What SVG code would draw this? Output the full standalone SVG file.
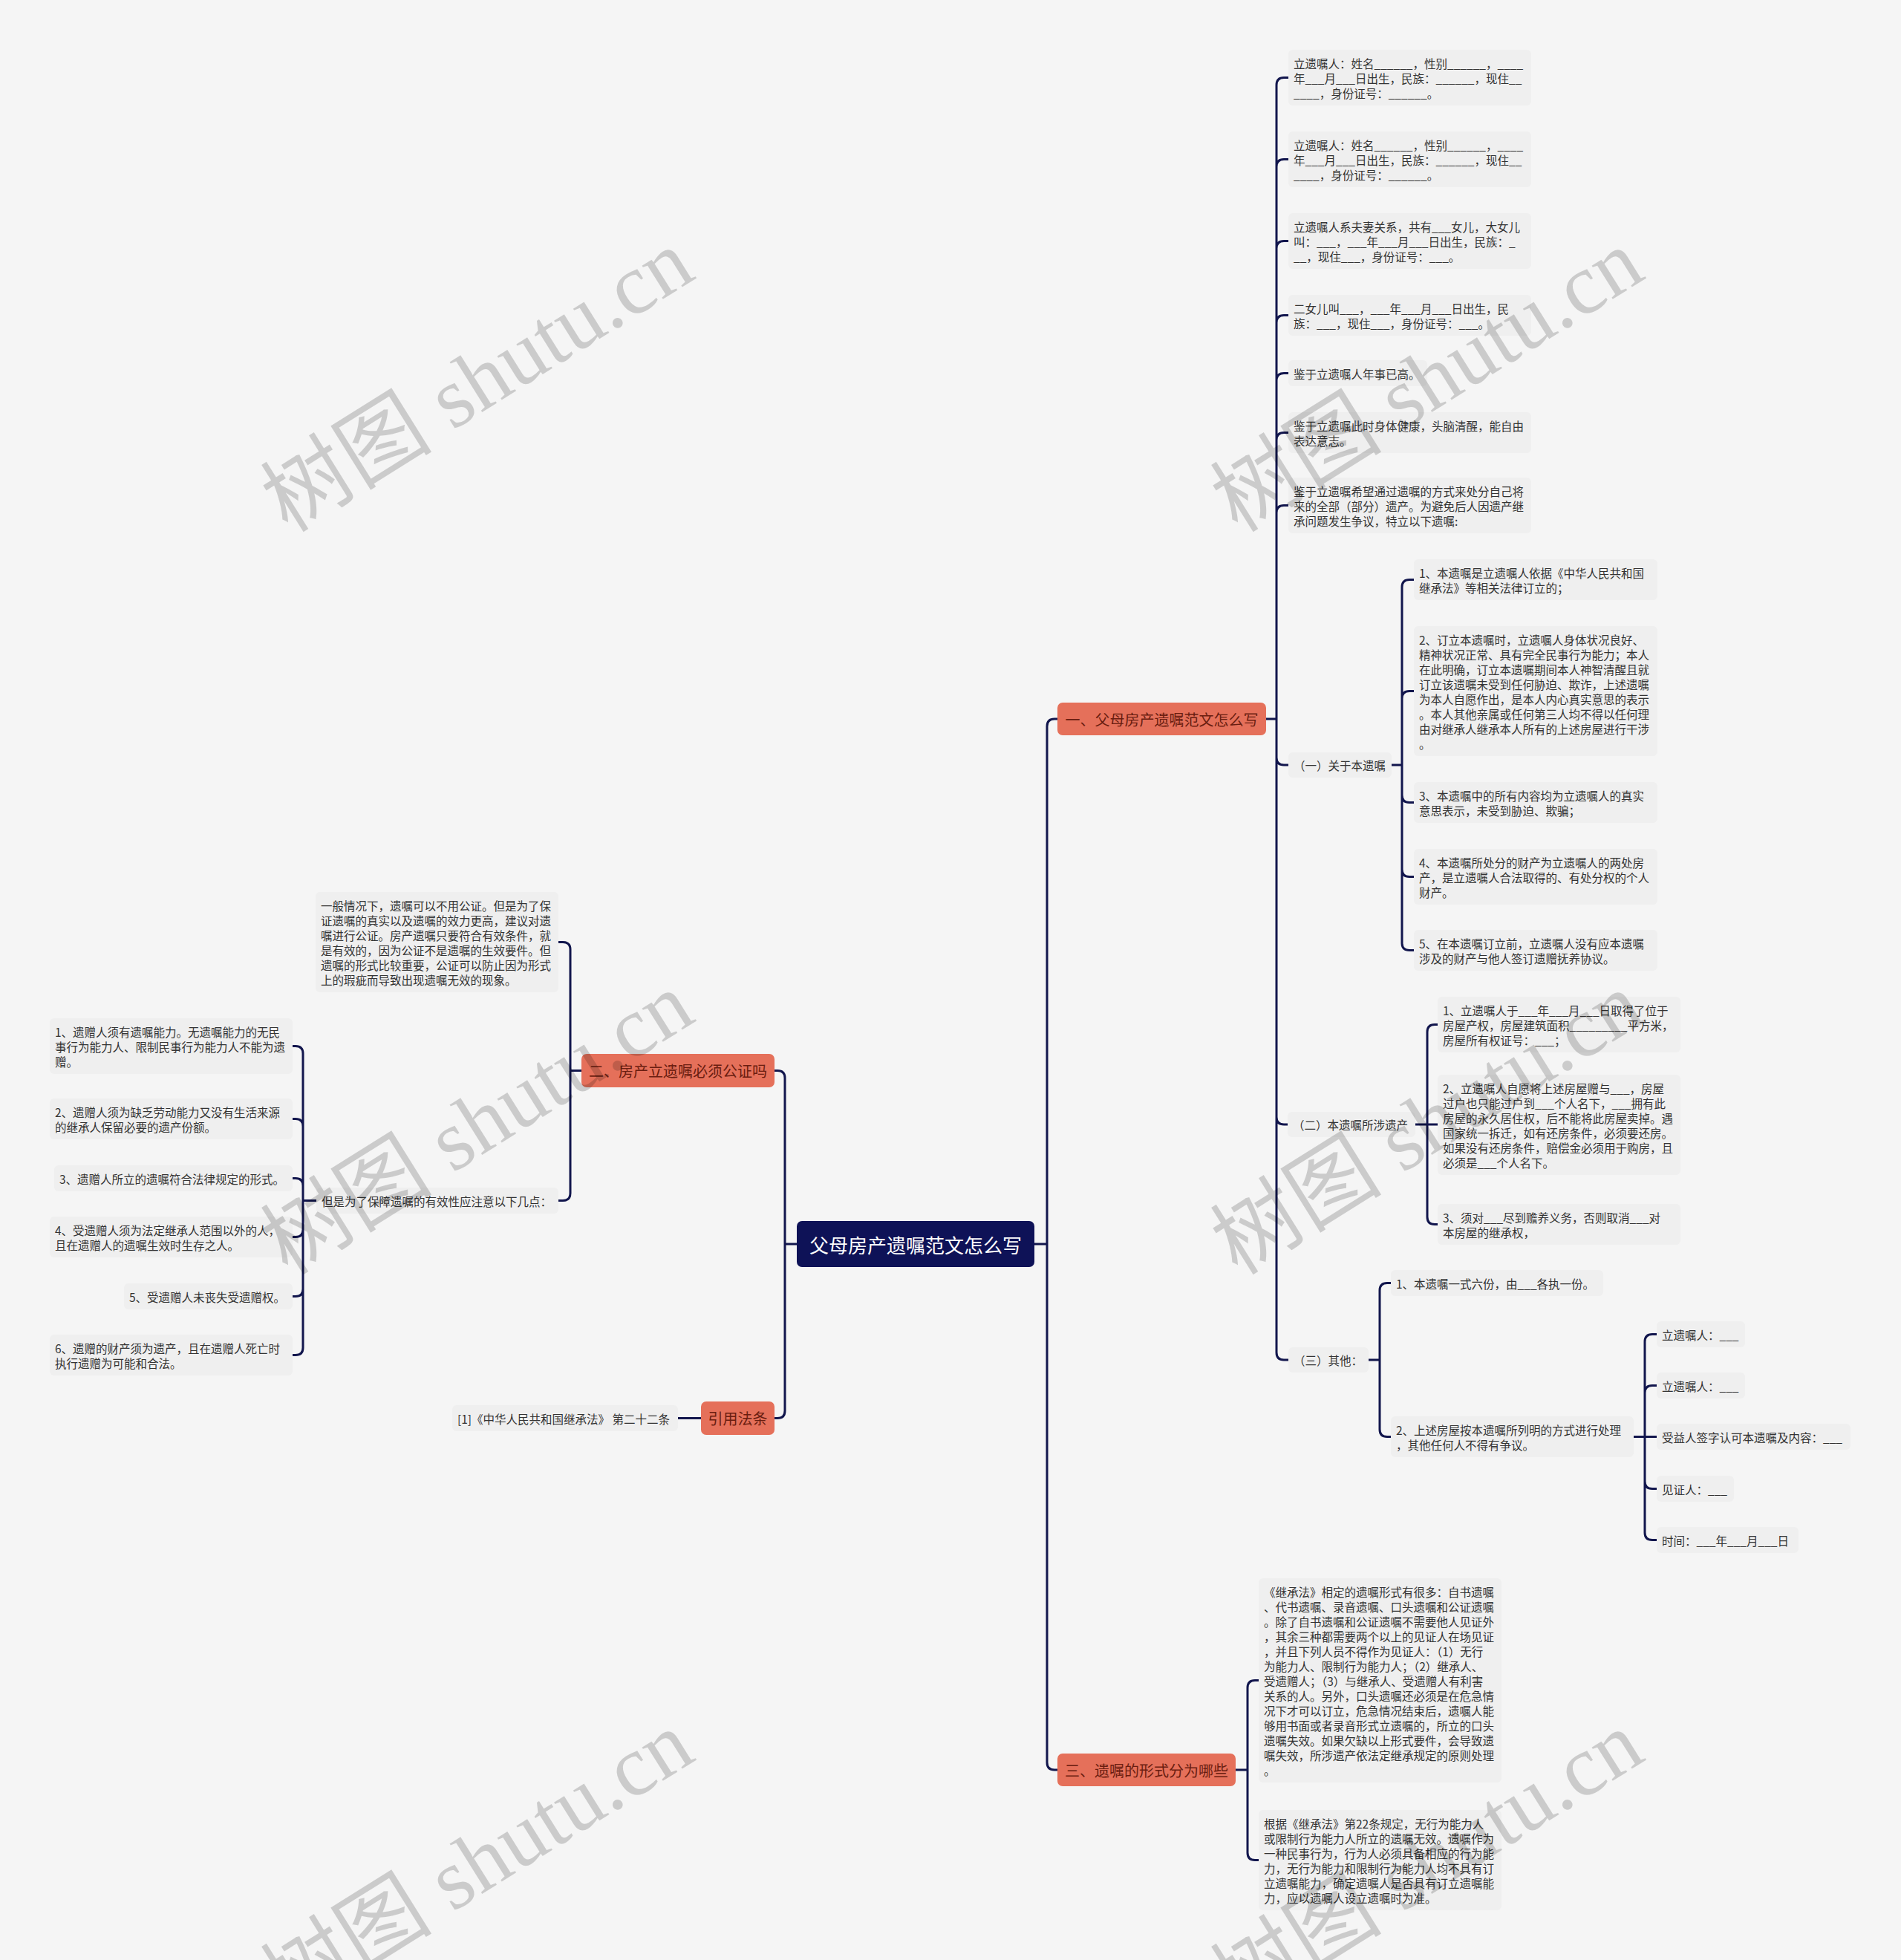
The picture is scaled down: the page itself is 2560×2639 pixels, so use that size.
<svg xmlns="http://www.w3.org/2000/svg" width="2560" height="2639" viewBox="0 0 2560 2639">
<style>
.n{fill:#efefef}
.t{font-family:"Noto Sans CJK SC","Noto Sans",sans-serif;font-size:15.5px;fill:#333;dominant-baseline:central}
.b{fill:#e5705a}
.bt{font-family:"Noto Sans CJK SC","Noto Sans",sans-serif;font-size:20px;fill:#6a1d10;dominant-baseline:central}
.rt{font-family:"Noto Sans CJK SC","Noto Sans",sans-serif;font-size:26px;fill:#fff;dominant-baseline:central}
.c{fill:none;stroke:#12164d;stroke-width:3}
.wm{font-family:"Liberation Serif","Noto Sans CJK SC",serif;font-size:116px;fill:#000;fill-opacity:0.17}
</style>
<rect width="2560" height="2639" fill="#f5f5f5"/>
<g id="connectors" class="c">
<path d="M1393 1675H1410M1410 1675V978Q1410 968 1420 968H1424M1410 1675V2373Q1410 2383 1420 2383H1424"/>
<path d="M1073 1675H1057M1057 1675V1451.5Q1057 1441.5 1047 1441.5H1043M1057 1675V1899.5Q1057 1909.5 1047 1909.5H1043"/>
<path d="M1705 968H1719M1719 968V114.5Q1719 104.5 1729 104.5H1735M1719 968V224.5Q1719 214.5 1729 214.5H1735M1719 968V334.5Q1719 324.5 1729 324.5H1735M1719 968V434.5Q1719 424.5 1729 424.5H1735M1719 968V512.5Q1719 502.5 1729 502.5H1735M1719 968V592.5Q1719 582.5 1729 582.5H1735M1719 968V690.5Q1719 680.5 1729 680.5H1735M1719 968V1020Q1719 1030 1729 1030H1735M1719 968V1504Q1719 1514 1729 1514H1734M1719 968V1821Q1719 1831 1729 1831H1735"/>
<path d="M1874 1030H1888M1888 1030V790.5Q1888 780.5 1898 780.5H1904M1888 1030V940.5Q1888 930.5 1898 930.5H1904M1888 1030V1070.5Q1888 1080.5 1898 1080.5H1904M1888 1030V1170.5Q1888 1180.5 1898 1180.5H1904M1888 1030V1269.5Q1888 1279.5 1898 1279.5H1904"/>
<path d="M1906 1514H1922M1922 1514V1389.5Q1922 1379.5 1932 1379.5H1936M1922 1514H1936M1922 1514V1638.5Q1922 1648.5 1932 1648.5H1936"/>
<path d="M1843 1831H1858M1858 1831V1737.5Q1858 1727.5 1868 1727.5H1873M1858 1831V1924.5Q1858 1934.5 1868 1934.5H1873"/>
<path d="M2200 1934.5H2215M2215 1934.5V1806.5Q2215 1796.5 2225 1796.5H2231M2215 1934.5V1875.5Q2215 1865.5 2225 1865.5H2231M2215 1934.5H2231M2215 1934.5V1994.5Q2215 2004.5 2225 2004.5H2231M2215 1934.5V2063.5Q2215 2073.5 2225 2073.5H2231"/>
<path d="M1664 2383H1680M1680 2383V2272.5Q1680 2262.5 1690 2262.5H1695M1680 2383V2494.5Q1680 2504.5 1690 2504.5H1695"/>
<path d="M783 1441.5H768M768 1441.5V1278.5Q768 1268.5 758 1268.5H752M768 1441.5V1606.5Q768 1616.5 758 1616.5H752"/>
<path d="M426 1616.5H408M408 1616.5V1418.5Q408 1408.5 398 1408.5H394M408 1616.5V1516.5Q408 1506.5 398 1506.5H394M408 1616.5V1596.5Q408 1586.5 398 1586.5H394M408 1616.5V1655.5Q408 1665.5 398 1665.5H394M408 1616.5V1735.5Q408 1745.5 398 1745.5H394M408 1616.5V1814.5Q408 1824.5 398 1824.5H394"/>
<path d="M944 1909.5H913"/>
</g>
<g id="root"><rect x="1073" y="1644" width="320" height="62" rx="7" fill="#0e1257"/><text class="rt" x="1233" y="1675" text-anchor="middle">父母房产遗嘱范文怎么写</text></g>
<g id="b1"><rect class="b" x="1424" y="946" width="281" height="44" rx="7"/><text class="bt" x="1564.5" y="968" text-anchor="middle">一、父母房产遗嘱范文怎么写</text></g>
<g id="b3"><rect class="b" x="1424" y="2361" width="240" height="44" rx="7"/><text class="bt" x="1544" y="2383" text-anchor="middle">三、遗嘱的形式分为哪些</text></g>
<g id="b2"><rect class="b" x="783" y="1419" width="260" height="45" rx="7"/><text class="bt" x="913" y="1441.5" text-anchor="middle">二、房产立遗嘱必须公证吗</text></g>
<g id="b4"><rect class="b" x="944" y="1887" width="99" height="45" rx="7"/><text class="bt" x="993.5" y="1909.5" text-anchor="middle">引用法条</text></g>

<g id="a1"><rect class="n" x="1735" y="67" width="327" height="75" rx="6"/><text class="t"><tspan x="1742" y="85">立遗嘱人：姓名______，性别______，____</tspan><tspan x="1742" y="105">年___月___日出生，民族：______，现住__</tspan><tspan x="1742" y="125">____，身份证号：______。</tspan></text></g>
<g id="a2"><rect class="n" x="1735" y="177" width="327" height="75" rx="6"/><text class="t"><tspan x="1742" y="195">立遗嘱人：姓名______，性别______，____</tspan><tspan x="1742" y="215">年___月___日出生，民族：______，现住__</tspan><tspan x="1742" y="235">____，身份证号：______。</tspan></text></g>
<g id="a3"><rect class="n" x="1735" y="287" width="327" height="75" rx="6"/><text class="t"><tspan x="1742" y="305">立遗嘱人系夫妻关系，共有___女儿，大女儿</tspan><tspan x="1742" y="325">叫：___，___年___月___日出生，民族：_</tspan><tspan x="1742" y="345">__，现住___，身份证号：___。</tspan></text></g>
<g id="a4"><rect class="n" x="1735" y="397" width="327" height="55" rx="6"/><text class="t"><tspan x="1742" y="415">二女儿叫___，___年___月___日出生，民</tspan><tspan x="1742" y="435">族：___，现住___，身份证号：___。</tspan></text></g>
<g id="a5"><rect class="n" x="1735" y="485" width="187" height="35" rx="6"/><text class="t"><tspan x="1742" y="502.5">鉴于立遗嘱人年事已高。</tspan></text></g>
<g id="a6"><rect class="n" x="1735" y="555" width="327" height="55" rx="6"/><text class="t"><tspan x="1742" y="573">鉴于立遗嘱此时身体健康，头脑清醒，能自由</tspan><tspan x="1742" y="593">表达意志。</tspan></text></g>
<g id="a7"><rect class="n" x="1735" y="643" width="327" height="75" rx="6"/><text class="t"><tspan x="1742" y="661">鉴于立遗嘱希望通过遗嘱的方式来处分自己将</tspan><tspan x="1742" y="681">来的全部（部分）遗产。为避免后人因遗产继</tspan><tspan x="1742" y="701">承问题发生争议，特立以下遗嘱:</tspan></text></g>

<g id="s1"><rect class="n" x="1735" y="1013" width="139" height="34" rx="6"/><text class="t"><tspan x="1742" y="1030">（一）关于本遗嘱</tspan></text></g>
<g id="s1-1"><rect class="n" x="1904" y="753" width="328" height="55" rx="6"/><text class="t"><tspan x="1911" y="771">1、本遗嘱是立遗嘱人依据《中华人民共和国</tspan><tspan x="1911" y="791">继承法》等相关法律订立的；</tspan></text></g>
<g id="s1-2"><rect class="n" x="1904" y="843" width="328" height="175" rx="6"/><text class="t"><tspan x="1911" y="861">2、订立本遗嘱时，立遗嘱人身体状况良好、</tspan><tspan x="1911" y="881">精神状况正常、具有完全民事行为能力；本人</tspan><tspan x="1911" y="901">在此明确，订立本遗嘱期间本人神智清醒且就</tspan><tspan x="1911" y="921">订立该遗嘱未受到任何胁迫、欺诈，上述遗嘱</tspan><tspan x="1911" y="941">为本人自愿作出，是本人内心真实意思的表示</tspan><tspan x="1911" y="961">。本人其他亲属或任何第三人均不得以任何理</tspan><tspan x="1911" y="981">由对继承人继承本人所有的上述房屋进行干涉</tspan><tspan x="1911" y="1001">。</tspan></text></g>
<g id="s1-3"><rect class="n" x="1904" y="1053" width="328" height="55" rx="6"/><text class="t"><tspan x="1911" y="1071">3、本遗嘱中的所有内容均为立遗嘱人的真实</tspan><tspan x="1911" y="1091">意思表示，未受到胁迫、欺骗；</tspan></text></g>
<g id="s1-4"><rect class="n" x="1904" y="1143" width="328" height="75" rx="6"/><text class="t"><tspan x="1911" y="1161">4、本遗嘱所处分的财产为立遗嘱人的两处房</tspan><tspan x="1911" y="1181">产，是立遗嘱人合法取得的、有处分权的个人</tspan><tspan x="1911" y="1201">财产。</tspan></text></g>
<g id="s1-5"><rect class="n" x="1904" y="1252" width="328" height="55" rx="6"/><text class="t"><tspan x="1911" y="1270">5、在本遗嘱订立前，立遗嘱人没有应本遗嘱</tspan><tspan x="1911" y="1290">涉及的财产与他人签订遗赠抚养协议。</tspan></text></g>

<g id="s2"><rect class="n" x="1734" y="1497" width="172" height="34" rx="6"/><text class="t"><tspan x="1741" y="1514">（二）本遗嘱所涉遗产</tspan></text></g>
<g id="s2-1"><rect class="n" x="1936" y="1342" width="327" height="75" rx="6"/><text class="t"><tspan x="1943" y="1360">1、立遗嘱人于___年___月___日取得了位于</tspan><tspan x="1943" y="1380">房屋产权，房屋建筑面积_________平方米，</tspan><tspan x="1943" y="1400">房屋所有权证号：___；</tspan></text></g>
<g id="s2-2"><rect class="n" x="1936" y="1447" width="327" height="135" rx="6"/><text class="t"><tspan x="1943" y="1465">2、立遗嘱人自愿将上述房屋赠与___，房屋</tspan><tspan x="1943" y="1485">过户也只能过户到___个人名下，___拥有此</tspan><tspan x="1943" y="1505">房屋的永久居住权，后不能将此房屋卖掉。遇</tspan><tspan x="1943" y="1525">国家统一拆迁，如有还房条件，必须要还房。</tspan><tspan x="1943" y="1545">如果没有还房条件，赔偿金必须用于购房，且</tspan><tspan x="1943" y="1565">必须是___个人名下。</tspan></text></g>
<g id="s2-3"><rect class="n" x="1936" y="1621" width="327" height="55" rx="6"/><text class="t"><tspan x="1943" y="1639">3、须对___尽到赡养义务，否则取消___对</tspan><tspan x="1943" y="1659">本房屋的继承权，</tspan></text></g>

<g id="s3"><rect class="n" x="1735" y="1814" width="108" height="34" rx="6"/><text class="t"><tspan x="1742" y="1831">（三）其他：</tspan></text></g>
<g id="s3-1"><rect class="n" x="1873" y="1710" width="286" height="35" rx="6"/><text class="t"><tspan x="1880" y="1727.5">1、本遗嘱一式六份，由___各执一份。</tspan></text></g>
<g id="s3-2"><rect class="n" x="1873" y="1907" width="327" height="55" rx="6"/><text class="t"><tspan x="1880" y="1925">2、上述房屋按本遗嘱所列明的方式进行处理</tspan><tspan x="1880" y="1945">，其他任何人不得有争议。</tspan></text></g>
<g id="s3-2-1"><rect class="n" x="2231" y="1779" width="119" height="35" rx="6"/><text class="t"><tspan x="2238" y="1796.5">立遗嘱人：___</tspan></text></g>
<g id="s3-2-2"><rect class="n" x="2231" y="1848" width="119" height="35" rx="6"/><text class="t"><tspan x="2238" y="1865.5">立遗嘱人：___</tspan></text></g>
<g id="s3-2-3"><rect class="n" x="2231" y="1917" width="261" height="35" rx="6"/><text class="t"><tspan x="2238" y="1934.5">受益人签字认可本遗嘱及内容：___</tspan></text></g>
<g id="s3-2-4"><rect class="n" x="2231" y="1987" width="104" height="35" rx="6"/><text class="t"><tspan x="2238" y="2004.5">见证人：___</tspan></text></g>
<g id="s3-2-5"><rect class="n" x="2231" y="2056" width="191" height="35" rx="6"/><text class="t"><tspan x="2238" y="2073.5">时间：___年___月___日</tspan></text></g>

<g id="e1"><rect class="n" x="1695" y="2125" width="327" height="275" rx="6"/><text class="t"><tspan x="1702" y="2143">《继承法》相定的遗嘱形式有很多：自书遗嘱</tspan><tspan x="1702" y="2163">、代书遗嘱、录音遗嘱、口头遗嘱和公证遗嘱</tspan><tspan x="1702" y="2183">。除了自书遗嘱和公证遗嘱不需要他人见证外</tspan><tspan x="1702" y="2203">，其余三种都需要两个以上的见证人在场见证</tspan><tspan x="1702" y="2223">，并且下列人员不得作为见证人：（1）无行</tspan><tspan x="1702" y="2243">为能力人、限制行为能力人；（2）继承人、</tspan><tspan x="1702" y="2263">受遗赠人；（3）与继承人、受遗赠人有利害</tspan><tspan x="1702" y="2283">关系的人。另外，口头遗嘱还必须是在危急情</tspan><tspan x="1702" y="2303">况下才可以订立，危急情况结束后，遗嘱人能</tspan><tspan x="1702" y="2323">够用书面或者录音形式立遗嘱的，所立的口头</tspan><tspan x="1702" y="2343">遗嘱失效。如果欠缺以上形式要件，会导致遗</tspan><tspan x="1702" y="2363">嘱失效，所涉遗产依法定继承规定的原则处理</tspan><tspan x="1702" y="2383">。</tspan></text></g>
<g id="e2"><rect class="n" x="1695" y="2437" width="327" height="135" rx="6"/><text class="t"><tspan x="1702" y="2455">根据《继承法》第22条规定，无行为能力人</tspan><tspan x="1702" y="2475">或限制行为能力人所立的遗嘱无效。遗嘱作为</tspan><tspan x="1702" y="2495">一种民事行为，行为人必须具备相应的行为能</tspan><tspan x="1702" y="2515">力，无行为能力和限制行为能力人均不具有订</tspan><tspan x="1702" y="2535">立遗嘱能力，确定遗嘱人是否具有订立遗嘱能</tspan><tspan x="1702" y="2555">力，应以遗嘱人设立遗嘱时为准。</tspan></text></g>

<g id="f1"><rect class="n" x="425" y="1201" width="327" height="135" rx="6"/><text class="t"><tspan x="432" y="1219">一般情况下，遗嘱可以不用公证。但是为了保</tspan><tspan x="432" y="1239">证遗嘱的真实以及遗嘱的效力更高，建议对遗</tspan><tspan x="432" y="1259">嘱进行公证。房产遗嘱只要符合有效条件，就</tspan><tspan x="432" y="1279">是有效的，因为公证不是遗嘱的生效要件。但</tspan><tspan x="432" y="1299">遗嘱的形式比较重要，公证可以防止因为形式</tspan><tspan x="432" y="1319">上的瑕疵而导致出现遗嘱无效的现象。</tspan></text></g>
<g id="f2"><rect class="n" x="426" y="1599" width="326" height="35" rx="6"/><text class="t"><tspan x="433" y="1616.5">但是为了保障遗嘱的有效性应注意以下几点：</tspan></text></g>
<g id="g1"><rect class="n" x="67" y="1371" width="327" height="75" rx="6"/><text class="t"><tspan x="74" y="1389">1、遗赠人须有遗嘱能力。无遗嘱能力的无民</tspan><tspan x="74" y="1409">事行为能力人、限制民事行为能力人不能为遗</tspan><tspan x="74" y="1429">赠。</tspan></text></g>
<g id="g2"><rect class="n" x="67" y="1479" width="327" height="55" rx="6"/><text class="t"><tspan x="74" y="1497">2、遗赠人须为缺乏劳动能力又没有生活来源</tspan><tspan x="74" y="1517">的继承人保留必要的遗产份额。</tspan></text></g>
<g id="g3"><rect class="n" x="73" y="1569" width="321" height="35" rx="6"/><text class="t"><tspan x="80" y="1586.5">3、遗赠人所立的遗嘱符合法律规定的形式。</tspan></text></g>
<g id="g4"><rect class="n" x="67" y="1638" width="327" height="55" rx="6"/><text class="t"><tspan x="74" y="1656">4、受遗赠人须为法定继承人范围以外的人，</tspan><tspan x="74" y="1676">且在遗赠人的遗嘱生效时生存之人。</tspan></text></g>
<g id="g5"><rect class="n" x="167" y="1728" width="227" height="35" rx="6"/><text class="t"><tspan x="174" y="1745.5">5、受遗赠人未丧失受遗赠权。</tspan></text></g>
<g id="g6"><rect class="n" x="67" y="1797" width="327" height="55" rx="6"/><text class="t"><tspan x="74" y="1815">6、遗赠的财产须为遗产，且在遗赠人死亡时</tspan><tspan x="74" y="1835">执行遗赠为可能和合法。</tspan></text></g>
<g id="h1"><rect class="n" x="609" y="1892" width="304" height="35" rx="6"/><text class="t"><tspan x="616" y="1909.5">[1]《中华人民共和国继承法》 第二十二条</tspan></text></g>

<g id="watermarks" class="wm" text-anchor="middle">
<text x="643" y="513" transform="rotate(-32 643 513)" dominant-baseline="central">树图 shutu.cn</text>
<text x="1922" y="513" transform="rotate(-32 1922 513)" dominant-baseline="central">树图 shutu.cn</text>
<text x="643" y="1513" transform="rotate(-32 643 1513)" dominant-baseline="central">树图 shutu.cn</text>
<text x="1922" y="1513" transform="rotate(-32 1922 1513)" dominant-baseline="central">树图 shutu.cn</text>
<text x="643" y="2508" transform="rotate(-32 643 2508)" dominant-baseline="central">树图 shutu.cn</text>
<text x="1922" y="2508" transform="rotate(-32 1922 2508)" dominant-baseline="central">树图 shutu.cn</text>
</g>
</svg>
